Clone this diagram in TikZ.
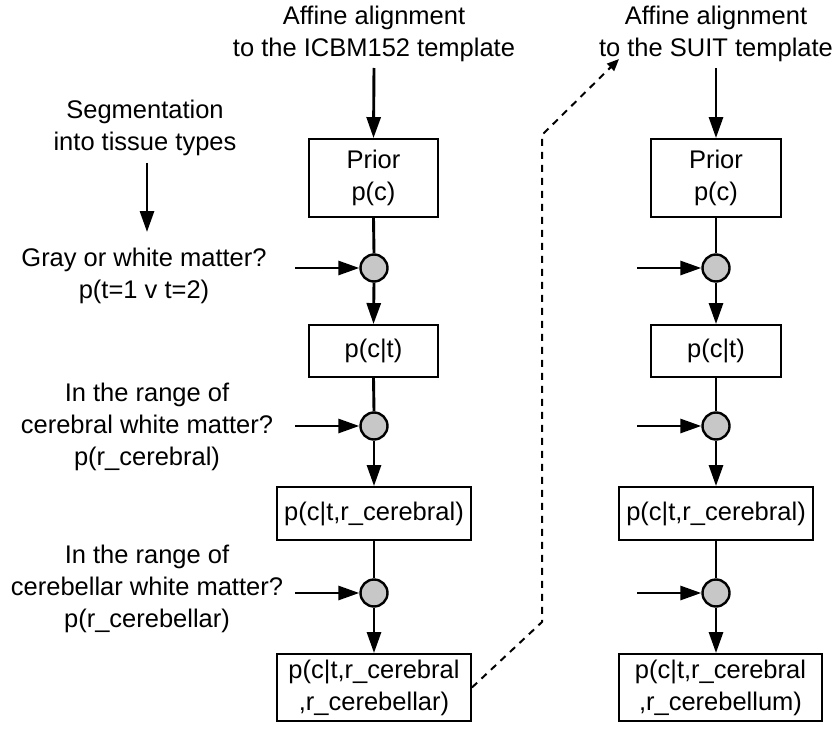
\documentclass[tikz,border=0pt]{standalone}
\usepackage{fontspec}
\setmainfont{Liberation Sans}
\usetikzlibrary{arrows.meta}
\begin{document}
\begin{tikzpicture}[x=1pt,y=-1pt,
  every node/.style={font=\fontsize{25.5}{32}\selectfont, align=center, inner sep=0pt},
  box/.style={draw, line width=1.9pt, minimum height=#1},
  junc/.style={circle, draw, line width=2.4pt, fill=black!22, minimum size=27pt},
  arr/.style={line width=2.9pt, -{Triangle[length=21pt,width=14pt]}},
  plain/.style={line width=2.9pt},
  dashedarr/.style={line width=2pt, dash pattern=on 7pt off 6pt, -{Triangle[length=12pt,width=10pt]}}
]
\useasboundingbox (0,0) rectangle (838,733);

% titles
\node (tl) at (374,34) {Affine alignment\\to the ICBM152 template};
\node (tr) at (716,34) {Affine alignment\\to the SUIT template};

% left texts
\node (seg) at (145,128) {Segmentation\\into tissue types};
\node (q1) at (144,276) {Gray or white matter?\\p(t=1 v t=2)};
\node (q2) at (147,427) {In the range of\\cerebral white matter?\\p(r\_cerebral)};
\node (q3) at (147,589) {In the range of\\cerebellar white matter?\\p(r\_cerebellar)};

% left column
\node[box=78pt, minimum width=129pt] (L1) at (373.5,178) {Prior\\p(c)};
\node[junc] (LC1) at (374,268) {};
\node[box=52pt, minimum width=129pt] (L2) at (373.5,351) {p(c|t)};
\node[junc] (LC2) at (374,426) {};
\node[box=53pt, minimum width=194pt] (L3) at (374,513.5) {p(c|t,r\_cerebral)};
\node[junc] (LC3) at (374,593) {};
\node[box=67pt, minimum width=194pt] (L4) at (374,687.5) {p(c|t,r\_cerebral\\,r\_cerebellar)};

% right column
\node[box=78pt, minimum width=130pt] (R1) at (716,178) {Prior\\p(c)};
\node[junc] (RC1) at (716,268) {};
\node[box=52pt, minimum width=130pt] (R2) at (716,351) {p(c|t)};
\node[junc] (RC2) at (716,426) {};
\node[box=53pt, minimum width=194pt] (R3) at (716,513.5) {p(c|t,r\_cerebral)};
\node[junc] (RC3) at (716,593) {};
\node[box=67pt, minimum width=203pt] (R4) at (720.5,687.5) {p(c|t,r\_cerebral\\,r\_cerebellum)};

% coordinates
\coordinate (tlS) at (374,68);
\coordinate (trS) at (716,68);
\coordinate (segS) at (147,163);
\coordinate (segE) at (147,232);
\coordinate (h1) at (295,268);
\coordinate (h2) at (295,426);
\coordinate (h3) at (295,593);
\coordinate (g1) at (637,268);
\coordinate (g2) at (637,426);
\coordinate (g3) at (637,593);
\coordinate (d1) at (542,622);
\coordinate (d2) at (542,135);
\coordinate (d3) at (619,59);

% arrows
\draw[arr] (tlS) -- (L1.north);
\draw[arr] (trS) -- (R1.north);
\draw[arr] (segS) -- (segE);

\draw[plain] (L1.south) -- (LC1.north);
\draw[arr] (LC1.south) -- (L2.north);
\draw[plain] (L2.south) -- (LC2.north);
\draw[arr] (LC2.south) -- (L3.north);
\draw[plain] (L3.south) -- (LC3.north);
\draw[arr] (LC3.south) -- (L4.north);

\draw[plain] (R1.south) -- (RC1.north);
\draw[arr] (RC1.south) -- (R2.north);
\draw[plain] (R2.south) -- (RC2.north);
\draw[arr] (RC2.south) -- (R3.north);
\draw[plain] (R3.south) -- (RC3.north);
\draw[arr] (RC3.south) -- (RC3.south |- R4.north);

\draw[arr] (h1) -- (LC1.west);
\draw[arr] (h2) -- (LC2.west);
\draw[arr] (h3) -- (LC3.west);
\draw[arr] (g1) -- (RC1.west);
\draw[arr] (g2) -- (RC2.west);
\draw[arr] (g3) -- (RC3.west);

\draw[dashedarr] (L4.east) -- (d1) -- (d2) -- (d3);
\end{tikzpicture}
\end{document}
